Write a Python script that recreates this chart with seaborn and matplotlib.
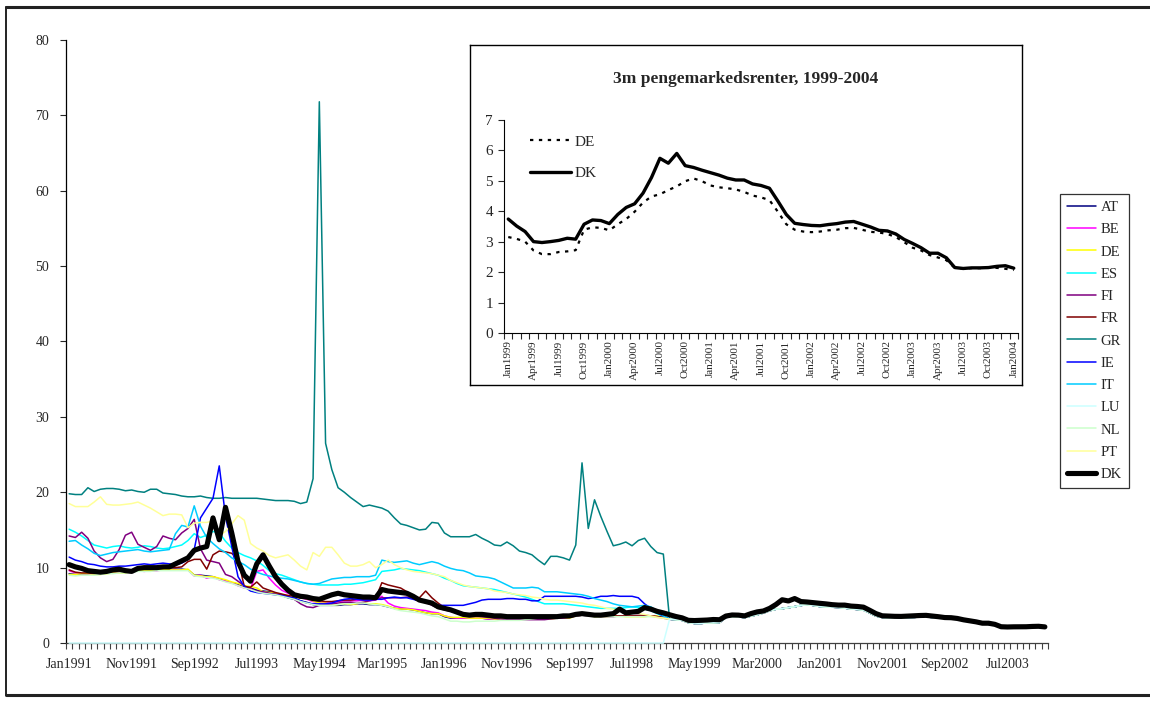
import numpy as np
import matplotlib
matplotlib.use("Agg")
import matplotlib.pyplot as plt
from matplotlib.lines import Line2D
import seaborn as sns

# monthly 3m rates, Jan1991 - Dec1998 (96 months)
AT_91 = [9.2, 9.1, 9.1, 9.1, 9.2, 9.2, 9.3, 9.4, 9.5, 9.4, 9.5, 9.6,
         9.7, 9.7, 9.7, 9.8, 9.8, 9.8, 9.8, 9.7, 9.0, 9.0, 8.9, 8.8,
         8.5, 8.2, 8.0, 7.8, 7.5, 7.3, 7.0, 6.9, 6.8, 6.6, 6.3, 6.0,
         5.8, 5.6, 5.4, 5.1, 5.0, 5.0, 5.0, 5.0, 5.1, 5.1, 5.2, 5.2,
         5.1, 5.1, 5.0, 4.8, 4.6, 4.5, 4.5, 4.4, 4.2, 4.0, 3.9, 3.9,
         3.5, 3.3, 3.3, 3.3, 3.3, 3.3, 3.3, 3.2, 3.2, 3.2, 3.2, 3.2,
         3.2, 3.3, 3.3, 3.3, 3.3, 3.4, 3.4, 3.4, 3.5, 3.6, 3.7, 3.7,
         3.6, 3.6, 3.6, 3.6, 3.6, 3.6, 3.6, 3.6, 3.6, 3.6, 3.5, 3.4]
BE_91 = [9.6, 9.3, 9.2, 9.2, 9.1, 9.2, 9.3, 9.3, 9.4, 9.5, 9.5, 9.6,
         9.5, 9.6, 9.6, 9.7, 9.7, 9.7, 9.7, 9.7, 8.9, 9.0, 8.6, 8.8,
         8.4, 8.2, 8.0, 7.6, 7.3, 7.2, 9.5, 9.7, 8.6, 7.7, 7.0, 6.6,
         6.2, 6.0, 5.8, 5.5, 5.4, 5.3, 5.3, 5.5, 5.6, 5.6, 5.6, 5.7,
         5.6, 5.7, 6.2, 5.3, 4.9, 4.7, 4.6, 4.5, 4.4, 4.3, 4.1, 4.0,
         3.6, 3.4, 3.3, 3.3, 3.3, 3.3, 3.3, 3.2, 3.2, 3.2, 3.2, 3.2,
         3.2, 3.2, 3.2, 3.2, 3.2, 3.3, 3.4, 3.4, 3.4, 3.6, 3.7, 3.7,
         3.6, 3.6, 3.6, 3.6, 3.6, 3.6, 3.6, 3.6, 3.6, 3.6, 3.5, 3.4]
DE_91 = [9.1, 9.1, 9.2, 9.2, 9.1, 9.1, 9.2, 9.3, 9.3, 9.3, 9.5, 9.6,
         9.6, 9.6, 9.7, 9.8, 9.7, 9.7, 9.7, 9.8, 9.0, 8.9, 8.8, 8.8,
         8.6, 8.4, 8.1, 7.9, 7.6, 7.5, 7.3, 6.8, 6.7, 6.6, 6.4, 6.3,
         6.1, 6.0, 5.9, 5.6, 5.3, 5.3, 5.0, 5.1, 5.2, 5.1, 5.2, 5.4,
         5.2, 5.2, 5.1, 4.9, 4.6, 4.5, 4.5, 4.4, 4.2, 4.0, 3.9, 3.9,
         3.6, 3.4, 3.4, 3.4, 3.3, 3.3, 3.3, 3.3, 3.2, 3.2, 3.2, 3.2,
         3.2, 3.2, 3.2, 3.2, 3.2, 3.2, 3.3, 3.3, 3.3, 3.6, 3.7, 3.7,
         3.5, 3.5, 3.5, 3.6, 3.6, 3.5, 3.5, 3.5, 3.5, 3.6, 3.6, 3.4]
ES_91 = [15.1, 14.7, 14.2, 13.6, 13.0, 12.8, 12.6, 12.8, 12.9, 12.7, 12.6, 12.7,
         12.9, 12.8, 12.6, 12.5, 12.6, 12.8, 13.0, 13.6, 14.5, 14.0, 14.3, 14.8,
         14.6, 13.5, 12.6, 12.0, 11.6, 11.3, 10.9, 10.3, 9.6, 9.2, 9.0, 8.7,
         8.4, 8.1, 7.9, 7.8, 7.7, 7.7, 7.7, 7.7, 7.8, 7.8, 7.9, 8.0,
         8.2, 8.4, 9.5, 9.6, 9.7, 9.9, 9.8, 9.7, 9.6, 9.4, 9.2, 9.0,
         8.6, 8.3, 7.9, 7.6, 7.5, 7.4, 7.3, 7.2, 7.1, 6.9, 6.7, 6.5,
         6.3, 6.1, 5.8, 5.5, 5.2, 5.2, 5.2, 5.2, 5.1, 5.0, 4.9, 4.8,
         4.7, 4.6, 4.6, 4.6, 4.6, 4.7, 4.8, 4.7, 4.5, 4.3, 3.9, 3.5]
FI_91 = [14.2, 14.0, 14.7, 13.9, 12.2, 11.3, 10.8, 11.1, 12.4, 14.3, 14.7, 13.1,
         12.7, 12.3, 12.8, 14.2, 13.9, 13.7, 14.6, 15.2, 16.4, 12.5, 11.0, 10.8,
         10.6, 9.1, 8.8, 8.2, 7.6, 7.2, 6.9, 6.8, 6.6, 6.5, 6.4, 6.2,
         5.8, 5.2, 4.8, 4.7, 5.0, 5.1, 5.2, 5.3, 5.4, 5.4, 5.3, 5.4,
         5.6, 5.8, 6.0, 6.0, 6.0, 6.0, 6.1, 5.9, 5.6, 5.4, 5.0, 4.6,
         4.4, 4.2, 4.0, 3.8, 3.7, 3.6, 3.5, 3.4, 3.3, 3.2, 3.1, 3.1,
         3.1, 3.1, 3.1, 3.1, 3.1, 3.2, 3.3, 3.3, 3.4, 3.6, 3.7, 3.6,
         3.6, 3.5, 3.5, 3.5, 3.6, 3.6, 3.6, 3.7, 3.7, 3.6, 3.5, 3.3]
FR_91 = [9.7, 9.4, 9.3, 9.3, 9.2, 9.3, 9.4, 9.5, 9.4, 9.5, 9.6, 9.8,
         9.9, 9.9, 9.9, 9.9, 10.0, 10.0, 10.1, 10.8, 11.1, 11.1, 9.8, 11.7,
         12.2, 12.1, 11.9, 11.1, 7.5, 7.4, 8.1, 7.3, 7.0, 6.7, 6.5, 6.3,
         6.2, 6.0, 5.9, 5.7, 5.6, 5.5, 5.5, 5.6, 5.7, 5.7, 5.8, 5.8,
         5.8, 5.9, 8.0, 7.7, 7.5, 7.3, 6.8, 6.0, 6.0, 6.9, 6.0, 5.3,
         4.7, 4.4, 4.2, 3.9, 3.7, 3.6, 3.6, 3.5, 3.4, 3.4, 3.4, 3.4,
         3.3, 3.3, 3.4, 3.4, 3.4, 3.4, 3.5, 3.5, 3.5, 3.7, 3.8, 3.7,
         3.6, 3.6, 3.6, 3.6, 3.6, 3.6, 3.6, 3.6, 3.6, 3.6, 3.5, 3.4]
GR_91 = [19.8, 19.7, 19.7, 20.6, 20.1, 20.4, 20.5, 20.5, 20.4, 20.2, 20.3, 20.1,
         20.0, 20.4, 20.4, 19.9, 19.8, 19.7, 19.5, 19.4, 19.4, 19.5, 19.3, 19.2,
         19.2, 19.3, 19.2, 19.2, 19.2, 19.2, 19.2, 19.1, 19.0, 18.9, 18.9, 18.9,
         18.8, 18.5, 18.7, 21.8, 71.8, 26.5, 23.0, 20.6, 20.0, 19.3, 18.7, 18.1,
         18.3, 18.1, 17.9, 17.5, 16.6, 15.8, 15.6, 15.3, 15.0, 15.1, 16.0, 15.9,
         14.6, 14.1, 14.1, 14.1, 14.1, 14.4, 13.9, 13.5, 13.0, 12.9, 13.4, 12.9,
         12.2, 12.0, 11.7, 11.0, 10.4, 11.5, 11.5, 11.3, 11.0, 13.0, 23.9, 15.2,
         19.0, 16.8, 14.8, 12.9, 13.1, 13.4, 12.9, 13.6, 13.9, 12.8, 12.0, 11.8]
IE_91 = [11.4, 11.0, 10.8, 10.5, 10.4, 10.2, 10.1, 10.1, 10.2, 10.2, 10.3, 10.4,
         10.5, 10.4, 10.5, 10.6, 10.5, 10.4, 10.6, 11.1, 12.4, 16.6, 17.9, 19.2,
         23.5, 16.8, 12.8, 8.8, 7.5, 6.9, 6.7, 6.6, 6.5, 6.4, 6.3, 6.1,
         6.0, 5.6, 5.3, 5.2, 5.2, 5.2, 5.3, 5.6, 5.8, 5.9, 5.8, 5.7,
         5.7, 5.8, 5.8, 6.0, 6.1, 6.0, 6.0, 5.8, 5.6, 5.4, 5.2, 5.0,
         5.0, 5.0, 5.0, 5.0, 5.2, 5.4, 5.7, 5.8, 5.8, 5.8, 5.9, 5.9,
         5.8, 5.8, 5.6, 5.6, 6.2, 6.2, 6.2, 6.2, 6.2, 6.2, 6.1, 5.9,
         6.0, 6.2, 6.2, 6.3, 6.2, 6.2, 6.2, 6.0, 5.2, 4.6, 4.0, 3.6]
IT_91 = [13.5, 13.6, 13.0, 12.5, 11.9, 11.6, 11.8, 12.0, 12.1, 12.2, 12.3, 12.4,
         12.2, 12.1, 12.2, 12.3, 12.4, 14.5, 15.6, 15.4, 18.2, 15.5, 14.0, 13.2,
         12.5, 12.0, 11.3, 10.8, 10.4, 9.8, 9.4, 9.1, 8.9, 8.7, 8.6, 8.5,
         8.3, 8.1, 7.9, 7.8, 7.9, 8.2, 8.5, 8.6, 8.7, 8.7, 8.8, 8.8,
         8.8, 9.0, 11.0, 10.8, 10.7, 10.8, 10.9, 10.6, 10.4, 10.6, 10.8, 10.6,
         10.2, 9.9, 9.7, 9.6, 9.3, 8.9, 8.8, 8.7, 8.5, 8.1, 7.7, 7.3,
         7.3, 7.3, 7.4, 7.3, 6.8, 6.8, 6.8, 6.7, 6.6, 6.5, 6.4, 6.2,
         5.9, 5.7, 5.5, 5.2, 5.0, 4.9, 4.8, 4.9, 5.0, 4.8, 4.3, 3.6]
LU_91 = [0.0] * 96
NL_91 = [9.0, 8.9, 9.0, 9.0, 9.0, 9.1, 9.2, 9.2, 9.3, 9.3, 9.4, 9.5,
         9.5, 9.5, 9.6, 9.6, 9.6, 9.6, 9.6, 9.6, 8.9, 8.8, 8.7, 8.6,
         8.4, 8.1, 7.9, 7.6, 7.3, 7.1, 6.8, 6.6, 6.5, 6.4, 6.2, 6.0,
         5.8, 5.5, 5.3, 5.1, 5.0, 5.0, 5.0, 5.1, 5.2, 5.2, 5.3, 5.3,
         5.2, 5.1, 5.0, 4.8, 4.5, 4.3, 4.2, 4.1, 4.0, 3.8, 3.6, 3.5,
         3.2, 2.9, 2.9, 2.8, 2.8, 2.9, 2.9, 2.9, 2.9, 3.0, 3.0, 3.0,
         3.0, 3.1, 3.2, 3.3, 3.3, 3.3, 3.4, 3.5, 3.5, 3.6, 3.7, 3.6,
         3.5, 3.5, 3.5, 3.5, 3.5, 3.5, 3.5, 3.5, 3.5, 3.5, 3.4, 3.3]
PT_91 = [18.5, 18.1, 18.1, 18.1, 18.7, 19.4, 18.4, 18.3, 18.3, 18.4, 18.5, 18.7,
         18.3, 17.9, 17.4, 16.9, 17.1, 17.1, 17.0, 15.3, 15.9, 16.0, 16.0, 16.2,
         14.2, 14.8, 15.8, 16.9, 16.3, 13.2, 12.6, 12.2, 11.6, 11.3, 11.5, 11.7,
         11.0, 10.2, 9.7, 12.0, 11.5, 12.7, 12.7, 11.7, 10.6, 10.2, 10.2, 10.4,
         10.8, 10.0, 10.4, 11.0, 10.4, 10.0, 9.7, 9.5, 9.4, 9.3, 9.2, 9.0,
         8.8, 8.3, 8.0, 7.7, 7.5, 7.4, 7.3, 7.2, 6.9, 6.8, 6.7, 6.5,
         6.4, 6.3, 6.1, 6.0, 5.8, 5.7, 5.7, 5.6, 5.5, 5.4, 5.3, 5.1,
         5.0, 4.8, 4.6, 4.5, 4.3, 4.1, 4.0, 3.9, 3.8, 3.6, 3.4, 3.3]
DK_91 = [10.4, 10.1, 9.9, 9.6, 9.5, 9.4, 9.5, 9.7, 9.8, 9.6, 9.5, 9.9,
         10.0, 10.0, 10.0, 10.1, 10.1, 10.5, 10.9, 11.3, 12.3, 12.6, 12.8, 16.6,
         13.7, 18.0, 14.6, 10.8, 9.0, 8.2, 10.5, 11.7, 10.2, 8.8, 7.8, 7.0,
         6.4, 6.2, 6.1, 5.9, 5.8, 6.1, 6.4, 6.6, 6.4, 6.3, 6.2, 6.1,
         6.1, 6.0, 7.1, 6.9, 6.8, 6.7, 6.6, 6.2, 5.7, 5.5, 5.3, 4.8,
         4.6, 4.4, 4.1, 3.8, 3.7, 3.8, 3.8, 3.7, 3.6, 3.6, 3.5, 3.5,
         3.5, 3.5, 3.5, 3.5, 3.5, 3.5, 3.5, 3.6, 3.6, 3.8, 3.9, 3.8,
         3.7, 3.7, 3.8, 3.9, 4.5, 4.0, 4.1, 4.2, 4.7, 4.5, 4.2, 4.0]

# Jan1999 - Jan2004 (61 months), as in the inset
DE_99 = [3.16, 3.10, 3.01, 2.72, 2.60, 2.60, 2.67, 2.69, 2.73, 3.40, 3.48, 3.46,
         3.38, 3.58, 3.75, 3.99, 4.29, 4.49, 4.56, 4.70, 4.82, 4.99, 5.08, 4.99,
         4.85, 4.79, 4.76, 4.72, 4.64, 4.52, 4.46, 4.37, 3.99, 3.58, 3.40, 3.34,
         3.32, 3.34, 3.38, 3.40, 3.45, 3.46, 3.40, 3.33, 3.31, 3.26, 3.16, 2.99,
         2.81, 2.72, 2.57, 2.49, 2.40, 2.15, 2.13, 2.14, 2.14, 2.15, 2.15, 2.12,
         2.08]
DK_99 = [3.75, 3.52, 3.34, 3.01, 2.98, 3.01, 3.05, 3.12, 3.09, 3.58, 3.72, 3.70,
         3.60, 3.90, 4.13, 4.25, 4.60, 5.11, 5.74, 5.58, 5.90, 5.50, 5.44, 5.35,
         5.27, 5.19, 5.09, 5.03, 5.03, 4.90, 4.85, 4.76, 4.34, 3.90, 3.61, 3.57,
         3.54, 3.53, 3.57, 3.60, 3.65, 3.67, 3.58, 3.49, 3.38, 3.36, 3.26, 3.08,
         2.95, 2.81, 2.63, 2.63, 2.48, 2.16, 2.13, 2.15, 2.15, 2.16, 2.20, 2.22,
         2.14]

countries = ["AT", "BE", "DE", "ES", "FI", "FR", "GR", "IE", "IT", "LU", "NL", "PT", "DK"]
colors = ["#000080", "#FF00FF", "#FFFF00", "#00FFFF", "#800080", "#800000", "#008080",
          "#0000FF", "#00CCFF", "#CCFFFF", "#CCFFCC", "#FFFF99", "#000000"]
series = {
    "AT": AT_91 + DE_99, "BE": BE_91 + DE_99, "DE": DE_91 + DE_99,
    "ES": ES_91 + DE_99, "FI": FI_91 + DE_99, "FR": FR_91 + DE_99,
    "GR": GR_91 + DE_99, "IE": IE_91 + DE_99, "IT": IT_91 + DE_99,
    "LU": LU_91 + DE_99, "NL": NL_91 + DE_99, "PT": PT_91 + DE_99,
    "DK": DK_91 + DK_99,
}

xlabels = ["Jan1991", "Nov1991", "Sep1992", "Jul1993", "May1994", "Mar1995", "Jan1996",
           "Nov1996", "Sep1997", "Jul1998", "May1999", "Mar2000", "Jan2001", "Nov2001",
           "Sep2002", "Jul2003"]
inset_labels = ["Jan1999", "Apr1999", "Jul1999", "Oct1999", "Jan2000", "Apr2000", "Jul2000",
                "Oct2000", "Jan2001", "Apr2001", "Jul2001", "Oct2001", "Jan2002", "Apr2002",
                "Jul2002", "Oct2002", "Jan2003", "Apr2003", "Jul2003", "Oct2003", "Jan2004"]

sns.set_style("white")
plt.rcParams["font.family"] = ["Liberation Serif", "DejaVu Serif"]

fig = plt.figure(figsize=(11.5, 7.01), dpi=100)

# main chart
ax = fig.add_axes([0.0574, 0.0827, 0.8539, 0.8603])
n = len(series["DK"])
x = np.arange(n)
for c, col in zip(countries, colors):
    lw = 3.7 if c == "DK" else 1.1
    sns.lineplot(x=x, y=series[c], ax=ax, color=col, linewidth=lw, label=c,
                 zorder=4 if c == "DK" else 2)
ax.lines[countries.index("LU")].set_clip_on(False)
ax.lines[countries.index("LU")].set_zorder(3)

ax.set_xlim(-0.5, n - 0.5)
ax.set_ylim(0, 80)
ax.set_yticks(range(0, 81, 10))
ax.set_xticks(range(0, 160, 10))
ax.set_xticklabels(xlabels)
ax.set_xticks(np.arange(-0.5, n, 1), minor=True)
ax.tick_params(axis="x", which="major", length=0, pad=11, labelsize=10)
ax.tick_params(axis="x", which="minor", length=4, width=0.8, color="#404040", direction="out")
ax.tick_params(axis="y", length=4, width=0.8, direction="out", labelsize=10, pad=8)
ax.tick_params(bottom=True, left=True, which="both")
for s in ["top", "right"]:
    ax.spines[s].set_visible(False)
ax.spines["left"].set_color("black")
ax.spines["bottom"].set_color("#404040")
ax.spines["left"].set_linewidth(0.9)
ax.spines["bottom"].set_linewidth(0.9)
ax.set_xlabel("")
ax.set_ylabel("")

leg = ax.legend(loc="center left", bbox_to_anchor=(0.9217, 0.5136), bbox_transform=fig.transFigure,
                frameon=True, fancybox=False, edgecolor="black", fontsize=10.5,
                handlelength=2.0, handletextpad=0.3, labelspacing=0.62, borderpad=0.5,
                borderaxespad=0)
leg.get_frame().set_linewidth(0.9)

# inset box
box = fig.add_axes([0.4087, 0.4508, 0.48, 0.485])
box.set_xticks([])
box.set_yticks([])
for s in box.spines.values():
    s.set_color("black")
    s.set_linewidth(1.0)
box.set_facecolor("white")
box.text(0.5, 0.90, "3m pengemarkedsrenter, 1999-2004", transform=box.transAxes,
         ha="center", va="center", fontsize=12.5, fontweight="bold")

ins = fig.add_axes([0.4383, 0.5243, 0.4469, 0.3047])
xi = np.arange(len(DK_99))
sns.lineplot(x=xi, y=DE_99, ax=ins, color="black", linewidth=1.6, linestyle=(0, (1.5, 2.5)), label="DE")
sns.lineplot(x=xi, y=DK_99, ax=ins, color="black", linewidth=2.4, label="DK")
ins.set_xlim(-0.5, len(xi) - 0.5)
ins.set_ylim(0, 7)
ins.set_yticks(range(0, 8))
ins.set_xticks(range(0, len(xi), 3))
ins.set_xticklabels(inset_labels, rotation=90)
ins.set_xticks(np.arange(-0.5, len(xi), 1), minor=True)
ins.tick_params(axis="x", which="major", length=0, pad=5, labelsize=8)
ins.tick_params(axis="x", which="minor", length=4, width=0.8, direction="out")
ins.tick_params(axis="y", length=4, width=0.8, direction="out", labelsize=11, pad=4)
ins.tick_params(bottom=True, left=True, which="both")
for s in ["top", "right"]:
    ins.spines[s].set_visible(False)
ins.spines["left"].set_color("black")
ins.spines["bottom"].set_color("black")
ins.set_facecolor("none")
ins.set_xlabel("")
ins.set_ylabel("")
ins.legend(loc="upper left", bbox_to_anchor=(0.4609, 0.8074), bbox_transform=fig.transFigure,
           frameon=False, fontsize=11, handlelength=2.7, handletextpad=0.2,
           labelspacing=1.15, borderpad=0, borderaxespad=0)

# outer frame lines
fig.add_artist(Line2D([0.005, 1.0], [0.990, 0.990], color="#222222", linewidth=2.2))
fig.add_artist(Line2D([0.0052, 0.0052], [0.0086, 0.990], color="#222222", linewidth=1.4))
fig.add_artist(Line2D([0.005, 1.0], [0.0086, 0.0086], color="#222222", linewidth=2.2))

fig.savefig("out.png", dpi=100)
